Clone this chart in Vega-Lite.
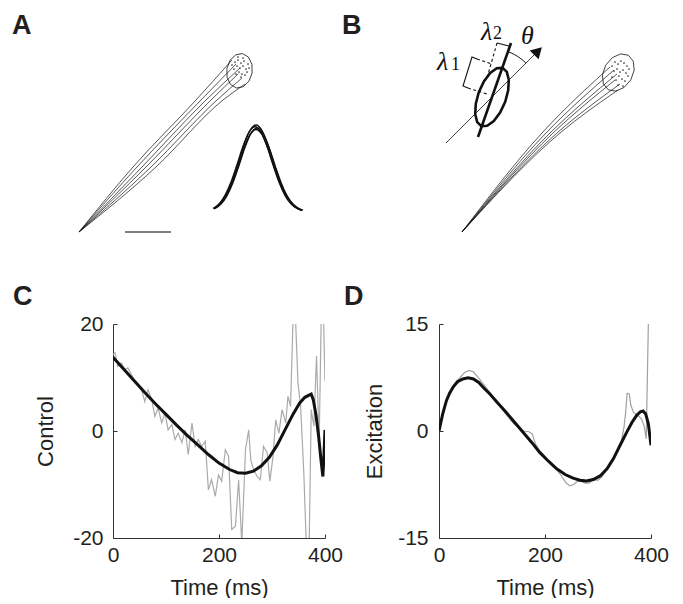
{
"$schema": "https://vega.github.io/schema/vega-lite/v6.json",
"padding": {"left": 12, "top": 0, "right": 0, "bottom": 0},
"background": "white",
"config": {
  "view": {"stroke": null},
  "font": "Liberation Sans",
  "axis": {"grid": false, "domainColor": "#333333", "tickColor": "#333333", "domainWidth": 1, "tickWidth": 1, "labelFontSize": 21, "titleFontSize": 22, "titleFontWeight": "normal", "labelColor": "#231f20", "titleColor": "#231f20", "labelFont": "Liberation Sans", "titleFont": "Liberation Sans", "tickSize": -4, "labelFlush": false, "labelOverlap": false},
  "title": {"font": "Liberation Sans", "fontSize": 27, "fontWeight": "bold", "color": "#231f20", "anchor": "start", "frame": "group", "baseline": "alphabetic"}
},
"columns": 2,
"bounds": "flush",
"align": "each",
"spacing": {"row": 84, "column": 114},
"datasets": {
  "trajA": [
    {"id":1,"o":0,"x":0,"y":0},{"id":1,"o":1,"x":54,"y":65},{"id":1,"o":2,"x":117,"y":132},{"id":1,"o":3,"x":153,"y":172},
    {"id":2,"o":0,"x":0,"y":0},{"id":2,"o":1,"x":58,"y":65},{"id":2,"o":2,"x":122,"y":132},{"id":2,"o":3,"x":157,"y":168},
    {"id":3,"o":0,"x":0,"y":0},{"id":3,"o":1,"x":63,"y":65},{"id":3,"o":2,"x":127,"y":132},{"id":3,"o":3,"x":161,"y":164},
    {"id":4,"o":0,"x":0,"y":0},{"id":4,"o":1,"x":67,"y":65},{"id":4,"o":2,"x":132,"y":132},{"id":4,"o":3,"x":159,"y":158},
    {"id":5,"o":0,"x":0,"y":0},{"id":5,"o":1,"x":72,"y":65},{"id":5,"o":2,"x":138,"y":132},{"id":5,"o":3,"x":163,"y":154},
    {"id":6,"o":0,"x":0,"y":0},{"id":6,"o":1,"x":77,"y":65},{"id":6,"o":2,"x":144,"y":132},{"id":6,"o":3,"x":166,"y":148}
  ],
  "ellA": [
    {"o":0,"x":163.5,"y":178.4},{"o":1,"x":169.4,"y":175.0},{"o":2,"x":172.9,"y":167.9},{"o":3,"x":173.1,"y":159.0},
    {"o":4,"x":169.9,"y":150.7},{"o":5,"x":164.2,"y":145.2},{"o":6,"x":157.5,"y":144.0},{"o":7,"x":151.6,"y":147.4},
    {"o":8,"x":148.1,"y":154.5},{"o":9,"x":147.9,"y":163.4},{"o":10,"x":151.1,"y":171.8},{"o":11,"x":156.8,"y":177.2},
    {"o":12,"x":163.5,"y":178.4}
  ],
  "dotsA": [
    {"x":156,"y":170},{"x":159,"y":172},{"x":162,"y":169},{"x":165,"y":171},{"x":158,"y":166},{"x":161,"y":164},
    {"x":164,"y":166},{"x":167,"y":163},{"x":155,"y":163},{"x":160,"y":160},{"x":163,"y":158},{"x":166,"y":157},
    {"x":169,"y":168},{"x":157,"y":158},{"x":162,"y":155},{"x":168,"y":160},{"x":159,"y":175},{"x":164,"y":174},
    {"x":153,"y":167},{"x":170,"y":164}
  ],
  "velA": [
    {"id":1,"x":135,"y":23.6},{"id":1,"x":141,"y":28.3},{"id":1,"x":147,"y":37},{"id":1,"x":153,"y":50.6},{"id":1,"x":159,"y":68.3},{"id":1,"x":165,"y":87},{"id":1,"x":171,"y":101.5},{"id":1,"x":177,"y":107},{"id":1,"x":183,"y":101.5},{"id":1,"x":189,"y":87},{"id":1,"x":195,"y":68.3},{"id":1,"x":201,"y":50.6},{"id":1,"x":207,"y":37},{"id":1,"x":213,"y":28.3},{"id":1,"x":219,"y":23.6},{"id":1,"x":223,"y":21.9},
    {"id":2,"x":136,"y":23.5},{"id":2,"x":142,"y":28},{"id":2,"x":148,"y":36.4},{"id":2,"x":154,"y":49.5},{"id":2,"x":160,"y":66.6},{"id":2,"x":166,"y":84.7},{"id":2,"x":172,"y":98.6},{"id":2,"x":178,"y":104},{"id":2,"x":184,"y":98.6},{"id":2,"x":190,"y":84.7},{"id":2,"x":196,"y":66.6},{"id":2,"x":202,"y":49.5},{"id":2,"x":208,"y":36.4},{"id":2,"x":214,"y":28},{"id":2,"x":220,"y":23.5},{"id":2,"x":224,"y":21.8},
    {"id":3,"x":134,"y":23.5},{"id":3,"x":140,"y":28.1},{"id":3,"x":146,"y":36.7},{"id":3,"x":152,"y":50},{"id":3,"x":158,"y":67.3},{"id":3,"x":164,"y":85.7},{"id":3,"x":170,"y":99.9},{"id":3,"x":176,"y":105.3},{"id":3,"x":182,"y":99.9},{"id":3,"x":188,"y":85.7},{"id":3,"x":194,"y":67.3},{"id":3,"x":200,"y":50},{"id":3,"x":206,"y":36.7},{"id":3,"x":212,"y":28.1},{"id":3,"x":218,"y":23.5},{"id":3,"x":222,"y":21.9},
    {"id":4,"x":135,"y":23.2},{"id":4,"x":141,"y":27.5},{"id":4,"x":147,"y":35.5},{"id":4,"x":153,"y":48.5},{"id":4,"x":159,"y":65.5},{"id":4,"x":165,"y":83.5},{"id":4,"x":171,"y":97.5},{"id":4,"x":177,"y":102.5},{"id":4,"x":183,"y":97.5},{"id":4,"x":189,"y":83.5},{"id":4,"x":195,"y":65.5},{"id":4,"x":201,"y":48.5},{"id":4,"x":207,"y":35.5},{"id":4,"x":213,"y":27.5},{"id":4,"x":219,"y":23.2},{"id":4,"x":223,"y":21.5}
  ],
  "barA": [{"x":46,"y":0},{"x":92,"y":0}],
  "trajB": [
    {"id":1,"o":0,"x":0,"y":0},{"id":1,"o":1,"x":80,"y":99},{"id":1,"o":2,"x":148,"y":165},
    {"id":2,"o":0,"x":0,"y":0},{"id":2,"o":1,"x":84,"y":99},{"id":2,"o":2,"x":152,"y":162},
    {"id":3,"o":0,"x":0,"y":0},{"id":3,"o":1,"x":88,"y":99},{"id":3,"o":2,"x":155,"y":158},
    {"id":4,"o":0,"x":0,"y":0},{"id":4,"o":1,"x":91,"y":99},{"id":4,"o":2,"x":153,"y":152},
    {"id":5,"o":0,"x":0,"y":0},{"id":5,"o":1,"x":95,"y":99},{"id":5,"o":2,"x":158,"y":148},
    {"id":6,"o":0,"x":0,"y":0},{"id":6,"o":1,"x":98,"y":99},{"id":6,"o":2,"x":156,"y":142}
  ],
  "ellB": [
    {"o":0,"x":166.3,"y":176.8},{"o":1,"x":171.2,"y":170.9},{"o":2,"x":172.2,"y":161.9},{"o":3,"x":168.9,"y":152.3},
    {"o":4,"x":162.2,"y":144.6},{"o":5,"x":153.9,"y":140.9},{"o":6,"x":146.3,"y":142.2},{"o":7,"x":141.4,"y":148.1},
    {"o":8,"x":140.4,"y":157.1},{"o":9,"x":143.7,"y":166.8},{"o":10,"x":150.4,"y":174.4},{"o":11,"x":158.7,"y":178.1},
    {"o":12,"x":166.3,"y":176.8}
  ],
  "dotsB": [
    {"x":150,"y":166},{"x":153,"y":170},{"x":156,"y":168},{"x":159,"y":171},{"x":162,"y":169},{"x":165,"y":166},
    {"x":152,"y":161},{"x":155,"y":163},{"x":158,"y":160},{"x":161,"y":162},{"x":164,"y":159},{"x":167,"y":163},
    {"x":150,"y":155},{"x":154,"y":152},{"x":157,"y":156},{"x":160,"y":153},{"x":163,"y":151},{"x":166,"y":156},
    {"x":156,"y":147},{"x":161,"y":146}
  ],
  "axisB": [{"x":-16,"y":89,"head":false},{"x":76,"y":181,"head":true}],
  "ellTheta": [
    {"o":0,"x":40.6,"y":164.1},{"o":1,"x":44.8,"y":160.1},{"o":2,"x":46.8,"y":152.2},{"o":3,"x":46.2,"y":141.7},
    {"o":4,"x":43.2,"y":130.2},{"o":5,"x":38.1,"y":119.4},{"o":6,"x":31.8,"y":111.0},{"o":7,"x":25.2,"y":106.3},
    {"o":8,"x":19.4,"y":105.9},{"o":9,"x":15.2,"y":109.9},{"o":10,"x":13.2,"y":117.8},{"o":11,"x":13.8,"y":128.3},
    {"o":12,"x":16.8,"y":139.8},{"o":13,"x":21.9,"y":150.6},{"o":14,"x":28.2,"y":159.0},{"o":15,"x":34.8,"y":163.8},
    {"o":16,"x":40.6,"y":164.1}
  ],
  "majorB": [{"x":16,"y":95},{"x":49,"y":189}],
  "dashB": [
    {"id":1,"o":0,"x":35,"y":189},{"id":1,"o":1,"x":25,"y":154},
    {"id":2,"o":0,"x":15,"y":173},{"id":2,"o":1,"x":30,"y":168},
    {"id":3,"o":0,"x":6,"y":144},{"id":3,"o":1,"x":25,"y":138}
  ],
  "bracketB": [
    {"id":1,"o":0,"x":35,"y":189},{"id":1,"o":1,"x":47,"y":186},
    {"id":2,"o":0,"x":15,"y":173},{"id":2,"o":1,"x":10,"y":175},{"id":2,"o":2,"x":1,"y":146},{"id":2,"o":3,"x":6,"y":144}
  ],
  "arcB": [
    {"o":0,"x":45.9,"y":180.3},{"o":1,"x":49.4,"y":179.0},{"o":2,"x":52.5,"y":177.4},{"o":3,"x":55.8,"y":175.5},
    {"o":4,"x":58.9,"y":173.3},{"o":5,"x":61.5,"y":171.2},{"o":6,"x":63.9,"y":168.9}
  ],
  "greekB": [
    {"sym":"λ","x":24.7,"y":200.3},{"sym":"λ","x":-19.5,"y":169.8},{"sym":"θ","x":65.5,"y":195.7}
  ],
  "subB": [
    {"sym":"2","x":35.5,"y":198},{"sym":"1","x":-6.5,"y":167}
  ],
  "ctrlNoisy": [
    {"t":0,"v":14.3},{"t":4,"v":14.6},{"t":9,"v":12.1},{"t":16,"v":12.7},{"t":22,"v":11.5},{"t":28,"v":11.8},{"t":35,"v":10.5},{"t":41,"v":9.3},{"t":47,"v":8.7},{"t":54,"v":7.7},{"t":60,"v":5.5},{"t":66,"v":7.7},{"t":73,"v":5.9},{"t":79,"v":2.7},{"t":85,"v":4.3},{"t":92,"v":1.5},{"t":98,"v":3.4},{"t":104,"v":0.2},{"t":111,"v":1.2},{"t":117,"v":-1.6},{"t":123,"v":-0.4},{"t":130,"v":-2.2},{"t":136,"v":0.2},{"t":142,"v":-4.4},{"t":149,"v":1.5},{"t":155,"v":-2.9},{"t":161,"v":-1.6},{"t":167,"v":-2.9},{"t":174,"v":-1.9},{"t":180,"v":-11.0},{"t":186,"v":-9.1},{"t":193,"v":-12.2},{"t":199,"v":-8.2},{"t":205,"v":-9.4},{"t":212,"v":-3.5},{"t":218,"v":-4.7},{"t":224,"v":-18.4},{"t":231,"v":-17.8},{"t":237,"v":-9.1},{"t":243,"v":-21},{"t":250,"v":-3.5},{"t":256,"v":0.2},{"t":260,"v":-5.4},{"t":265,"v":-7.2},{"t":272,"v":-8.5},{"t":278,"v":-9.1},{"t":284,"v":-2.9},{"t":291,"v":-4.1},{"t":296,"v":-9.4},{"t":302,"v":-4.7},{"t":307,"v":2.1},{"t":313,"v":-0.4},{"t":319,"v":4.0},{"t":326,"v":1.5},{"t":330,"v":6.5},{"t":335,"v":4.6},{"t":340,"v":22},{"t":344,"v":22},{"t":349,"v":9.0},{"t":354,"v":4.6},{"t":360,"v":-7.8},{"t":365,"v":-22},{"t":370,"v":-22},{"t":374,"v":4.0},{"t":379,"v":0.9},{"t":384,"v":14.0},{"t":389,"v":-2.2},{"t":393,"v":22},{"t":397,"v":22},{"t":400,"v":9.3}
  ],
  "ctrlFit": [
    {"t":0,"v":13.8},{"t":20,"v":11.6},{"t":40,"v":9.4},{"t":60,"v":7.2},{"t":80,"v":5.1},{"t":100,"v":3.1},{"t":120,"v":1.1},{"t":140,"v":-0.8},{"t":160,"v":-2.6},{"t":180,"v":-4.4},{"t":200,"v":-6.0},{"t":220,"v":-7.2},{"t":235,"v":-7.8},{"t":250,"v":-7.9},{"t":265,"v":-7.5},{"t":280,"v":-6.5},{"t":295,"v":-4.9},{"t":310,"v":-2.6},{"t":325,"v":0.3},{"t":340,"v":3.2},{"t":352,"v":5.2},{"t":362,"v":6.3},{"t":370,"v":6.7},{"t":374,"v":6.9},{"t":378,"v":5.8},{"t":383,"v":3.0},{"t":388,"v":-1.0},{"t":392,"v":-5.0},{"t":396,"v":-8.5},{"t":398,"v":-4.5},{"t":400,"v":0.2}
  ],
  "excNoisy": [
    {"t":0,"v":0},{"t":5,"v":1.6},{"t":12,"v":3.6},{"t":20,"v":5.3},{"t":30,"v":6.7},{"t":40,"v":7.5},{"t":48,"v":8.2},{"t":57,"v":8.5},{"t":65,"v":8.3},{"t":75,"v":7.4},{"t":88,"v":6.2},{"t":100,"v":5.0},{"t":112,"v":3.8},{"t":120,"v":3.0},{"t":130,"v":2.0},{"t":140,"v":1.1},{"t":150,"v":0.5},{"t":160,"v":0.0},{"t":170,"v":-0.1},{"t":176,"v":-0.4},{"t":182,"v":-1.8},{"t":190,"v":-2.8},{"t":200,"v":-3.6},{"t":210,"v":-4.6},{"t":220,"v":-5.2},{"t":230,"v":-6.2},{"t":240,"v":-7.3},{"t":247,"v":-7.7},{"t":254,"v":-7.5},{"t":262,"v":-7.0},{"t":270,"v":-7.1},{"t":276,"v":-7.3},{"t":283,"v":-7.3},{"t":290,"v":-6.9},{"t":300,"v":-6.9},{"t":308,"v":-6.4},{"t":315,"v":-5.5},{"t":322,"v":-4.5},{"t":330,"v":-3.6},{"t":338,"v":-2.7},{"t":344,"v":-1.5},{"t":349,"v":0.5},{"t":352,"v":2.5},{"t":355,"v":5.3},{"t":359,"v":5.2},{"t":362,"v":3.6},{"t":367,"v":2.6},{"t":375,"v":2.2},{"t":382,"v":1.7},{"t":387,"v":0.7},{"t":391,"v":-1.1},{"t":395,"v":15}
  ],
  "excFit": [
    {"t":0,"v":0},{"t":7,"v":2.4},{"t":14,"v":4.25},{"t":20,"v":5.3},{"t":27,"v":6.2},{"t":35,"v":6.9},{"t":45,"v":7.3},{"t":55,"v":7.45},{"t":65,"v":7.3},{"t":75,"v":6.8},{"t":85,"v":6.0},{"t":96,"v":5.2},{"t":110,"v":4.0},{"t":127,"v":2.6},{"t":143,"v":1.2},{"t":159,"v":-0.2},{"t":175,"v":-1.6},{"t":190,"v":-3.0},{"t":206,"v":-4.2},{"t":222,"v":-5.3},{"t":238,"v":-6.1},{"t":253,"v":-6.6},{"t":266,"v":-6.9},{"t":278,"v":-7.0},{"t":291,"v":-6.8},{"t":304,"v":-6.3},{"t":317,"v":-5.3},{"t":329,"v":-3.9},{"t":341,"v":-2.1},{"t":354,"v":-0.2},{"t":364,"v":1.2},{"t":373,"v":2.2},{"t":380,"v":2.7},{"t":385,"v":2.8},{"t":390,"v":2.4},{"t":395,"v":1.0},{"t":400,"v":-2.0}
  ]
},
"concat": [
  {
    "width": 212, "height": 240,
    "title": {"text": "A", "dx": -101, "offset": -40},
    "encoding": {
      "x": {"field": "x", "type": "quantitative", "scale": {"domain": [34, 246], "nice": false, "zero": false}, "axis": null},
      "y": {"field": "y", "type": "quantitative", "scale": {"domain": [-8, 232], "nice": false, "zero": false}, "axis": null}
    },
    "layer": [
      {"data": {"name": "trajA"}, "mark": {"type": "line", "color": "#111111", "strokeWidth": 0.7, "interpolate": "monotone"}, "encoding": {"detail": {"field": "id"}, "order": {"field": "o"}}},
      {"data": {"name": "ellA"}, "mark": {"type": "line", "color": "#111111", "strokeWidth": 0.8}, "encoding": {"order": {"field": "o"}}},
      {"data": {"name": "dotsA"}, "mark": {"type": "point", "filled": true, "size": 3, "color": "#333333", "opacity": 1}},
      {"data": {"name": "velA"}, "mark": {"type": "line", "color": "#111111", "strokeWidth": 1.4, "interpolate": "monotone"}, "encoding": {"detail": {"field": "id"}}},
      {"data": {"name": "barA"}, "mark": {"type": "line", "color": "#555555", "strokeWidth": 1.5}}
    ]
  },
  {
    "width": 212, "height": 240,
    "title": {"text": "B", "dx": -97, "offset": -40},
    "encoding": {
      "x": {"field": "x", "type": "quantitative", "scale": {"domain": [-23, 189], "nice": false, "zero": false}, "axis": null},
      "y": {"field": "y", "type": "quantitative", "scale": {"domain": [-8, 232], "nice": false, "zero": false}, "axis": null}
    },
    "layer": [
      {"data": {"name": "trajB"}, "mark": {"type": "line", "color": "#111111", "strokeWidth": 0.7, "interpolate": "monotone"}, "encoding": {"detail": {"field": "id"}, "order": {"field": "o"}}},
      {"data": {"name": "ellB"}, "mark": {"type": "line", "color": "#111111", "strokeWidth": 0.8}, "encoding": {"order": {"field": "o"}}},
      {"data": {"name": "dotsB"}, "mark": {"type": "point", "filled": true, "size": 3, "color": "#333333", "opacity": 1}},
      {"data": {"name": "axisB"}, "mark": {"type": "line", "color": "#111111", "strokeWidth": 0.8}},
      {"data": {"name": "axisB"}, "transform": [{"filter": "datum.head"}], "mark": {"type": "point", "shape": "triangle-up", "filled": true, "size": 160, "angle": 45, "color": "#111111", "opacity": 1}},
      {"data": {"name": "ellTheta"}, "mark": {"type": "line", "color": "#111111", "strokeWidth": 2.6}, "encoding": {"order": {"field": "o"}}},
      {"data": {"name": "majorB"}, "mark": {"type": "line", "color": "#111111", "strokeWidth": 2.6}},
      {"data": {"name": "dashB"}, "mark": {"type": "line", "color": "#111111", "strokeWidth": 1.1, "strokeDash": [3, 2.5]}, "encoding": {"detail": {"field": "id"}, "order": {"field": "o"}}},
      {"data": {"name": "bracketB"}, "mark": {"type": "line", "color": "#111111", "strokeWidth": 1.1}, "encoding": {"detail": {"field": "id"}, "order": {"field": "o"}}},
      {"data": {"name": "arcB"}, "mark": {"type": "line", "color": "#111111", "strokeWidth": 1}, "encoding": {"order": {"field": "o"}}},
      {"data": {"name": "greekB"}, "mark": {"type": "text", "font": "Liberation Serif", "fontSize": 26, "fontStyle": "italic", "color": "#111111", "align": "center", "baseline": "middle"}, "encoding": {"text": {"field": "sym"}}},
      {"data": {"name": "subB"}, "mark": {"type": "text", "font": "Liberation Serif", "fontSize": 18, "color": "#111111", "align": "center", "baseline": "middle"}, "encoding": {"text": {"field": "sym"}}}
    ]
  },
  {
    "width": 212, "height": 214,
    "title": {"text": "C", "dx": -100, "offset": 2},
    "encoding": {
      "x": {"field": "t", "type": "quantitative", "scale": {"domain": [0, 400], "nice": false}, "axis": {"values": [0, 200, 400], "title": "Time (ms)", "labelPadding": 10, "titlePadding": 12}},
      "y": {"field": "v", "type": "quantitative", "scale": {"domain": [-20, 20], "nice": false}, "axis": {"values": [-20, 0, 20], "title": "Control", "labelExpr": "'' + datum.value", "labelPadding": 14, "titlePadding": 15}}
    },
    "layer": [
      {"data": {"name": "ctrlNoisy"}, "mark": {"type": "line", "color": "#aaaaaa", "strokeWidth": 1.2, "clip": true}},
      {"data": {"name": "ctrlFit"}, "mark": {"type": "line", "color": "#111111", "strokeWidth": 3, "clip": true}}
    ]
  },
  {
    "width": 212, "height": 214,
    "title": {"text": "D", "dx": -95, "offset": 2},
    "encoding": {
      "x": {"field": "t", "type": "quantitative", "scale": {"domain": [0, 400], "nice": false}, "axis": {"values": [0, 200, 400], "title": "Time (ms)", "labelPadding": 10, "titlePadding": 12}},
      "y": {"field": "v", "type": "quantitative", "scale": {"domain": [-15, 15], "nice": false}, "axis": {"values": [-15, 0, 15], "title": "Excitation", "labelExpr": "'' + datum.value", "labelPadding": 15, "titlePadding": 11}}
    },
    "layer": [
      {"data": {"name": "excNoisy"}, "mark": {"type": "line", "color": "#a0a0a0", "strokeWidth": 1.2, "clip": true}},
      {"data": {"name": "excFit"}, "mark": {"type": "line", "color": "#111111", "strokeWidth": 3, "clip": true}}
    ]
  }
]
}
